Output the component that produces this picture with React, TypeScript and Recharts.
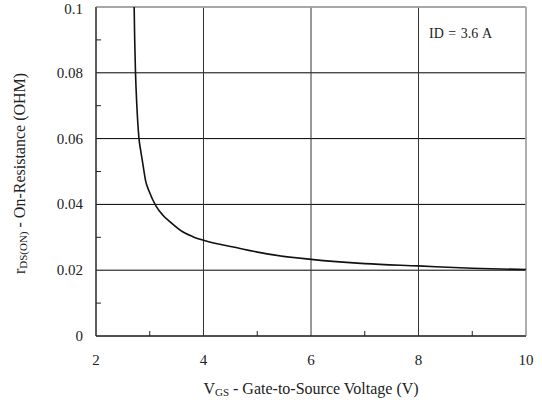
import React from "react";
import {
  LineChart,
  Line,
  XAxis,
  YAxis,
  CartesianGrid,
  ReferenceLine,
} from "recharts";

const vgs = [2.71, 2.72, 2.735, 2.76, 2.8, 2.835, 2.87, 2.92, 2.99, 3.12, 3.24, 3.38, 3.62, 3.8, 4.0, 4.68, 5.24, 6.0, 7.0, 8.0, 9.0, 10.0];
const rds = [0.1, 0.09, 0.08, 0.07, 0.06, 0.056, 0.0525, 0.0474, 0.0439, 0.0394, 0.0368, 0.0347, 0.0316, 0.0302, 0.0291, 0.0266, 0.0248, 0.0233, 0.022, 0.0213, 0.0206, 0.0202];

const xTicks = [2, 4, 6, 8, 10];
const yTicks = [0, 0.02, 0.04, 0.06, 0.08, 0.1];
const xMinor = [3, 5, 7, 9];
const yMinor = [0.01, 0.03, 0.05, 0.07, 0.09];

const data = vgs.map((v, i) => ({ v, r: rds[i] }));

const FONT = "'Liberation Serif', 'Times New Roman', serif";

const yMinorShape = (p: any) => {
  const x0 = Math.min(p.x1, p.x2);
  return <line x1={x0} y1={p.y1} x2={x0 + 5} y2={p.y1} stroke="#222" strokeWidth={1} />;
};
const xMinorShape = (p: any) => {
  const y0 = Math.max(p.y1, p.y2);
  return <line x1={p.x1} y1={y0} x2={p.x1} y2={y0 - 5} stroke="#222" strokeWidth={1} />;
};

const XTick = (p: any) => (
  <text
    x={p.x}
    y={p.y}
    dy={11}
    textAnchor="middle"
    fontFamily={FONT}
    style={{ fontFamily: FONT }}
    fontSize={15}
    fill="#222"
  >
    {String(p.payload.value)}
  </text>
);

const YTick = (p: any) => (
  <text
    x={p.x}
    y={p.y}
    dy={5}
    textAnchor="end"
    fontFamily={FONT}
    style={{ fontFamily: FONT }}
    fontSize={15}
    fill="#222"
  >
    {String(p.payload.value)}
  </text>
);

const XTitle = (props: any) => {
  const vb = props.viewBox || {};
  const cx = vb.x + vb.width / 2;
  return (
    <text x={cx} y={394} textAnchor="middle" fontFamily={FONT} style={{ fontFamily: FONT }} fill="#222">
      <tspan fontSize={16}>V</tspan>
      <tspan fontSize={11} dy={2}>GS</tspan>
      <tspan fontSize={16} dy={-2}> - Gate-to-Source Voltage (V)</tspan>
    </text>
  );
};

const YTitle = (props: any) => {
  const vb = props.viewBox || {};
  const cy = vb.y + vb.height / 2 + 2;
  const x = 25;
  return (
    <text
      x={x}
      y={cy}
      transform={`rotate(-90, ${x}, ${cy})`}
      textAnchor="middle"
      fontFamily={FONT}
      style={{ fontFamily: FONT }}
      fill="#222"
    >
      <tspan fontSize={16}>r</tspan>
      <tspan fontSize={11} dy={2}>DS(ON)</tspan>
      <tspan fontSize={16} dy={-2}> - On-Resistance (OHM)</tspan>
    </text>
  );
};

export default function App() {
  return (
    <div
      style={{
        position: "absolute",
        left: 0,
        top: 0,
        width: 542,
        height: 405,
        background: "#fff",
        fontFamily: FONT,
      }}
    >
      <LineChart
        width={542}
        height={405}
        data={data}
        margin={{ top: 7, right: 16, bottom: 0, left: 0 }}
      >
        <CartesianGrid horizontal={true} vertical={false} stroke="#000" strokeWidth={1} />
        <CartesianGrid horizontal={false} vertical={true} stroke="#333" strokeWidth={1} />
        <XAxis
          dataKey="v"
          type="number"
          domain={[2, 10]}
          ticks={xTicks}
          allowDataOverflow
          height={69}
          tickLine={false}
          tickSize={0}
          tickMargin={18}
          axisLine={{ stroke: "#222", strokeWidth: 1 }}
          tick={XTick}
          label={{ content: XTitle }}
        />
        <YAxis
          type="number"
          domain={[0, 0.1]}
          ticks={yTicks}
          allowDataOverflow
          width={96}
          tickLine={false}
          tickSize={0}
          tickMargin={13}
          axisLine={{ stroke: "#222", strokeWidth: 1 }}
          tick={YTick}
          label={{ content: YTitle }}
        />
        <ReferenceLine y={0.1} stroke="#b4b4b4" strokeWidth={1.5} />
        <ReferenceLine x={10} stroke="#b4b4b4" strokeWidth={1.5} />
        {yMinor.map((t) => (
          <ReferenceLine key={"ym" + t} y={t} shape={yMinorShape} />
        ))}
        {xMinor.map((t) => (
          <ReferenceLine key={"xm" + t} x={t} shape={xMinorShape} />
        ))}
        <Line
          dataKey="r"
          type="monotone"
          stroke="#111"
          strokeWidth={1.6}
          dot={false}
          isAnimationActive={false}
        />
      </LineChart>
      <div
        style={{
          position: "absolute",
          left: 429,
          top: 26,
          fontFamily: FONT,
          fontSize: 14,
          color: "#222",
          whiteSpace: "nowrap",
          wordSpacing: 1,
        }}
      >
        ID = 3.6 A
      </div>
    </div>
  );
}
